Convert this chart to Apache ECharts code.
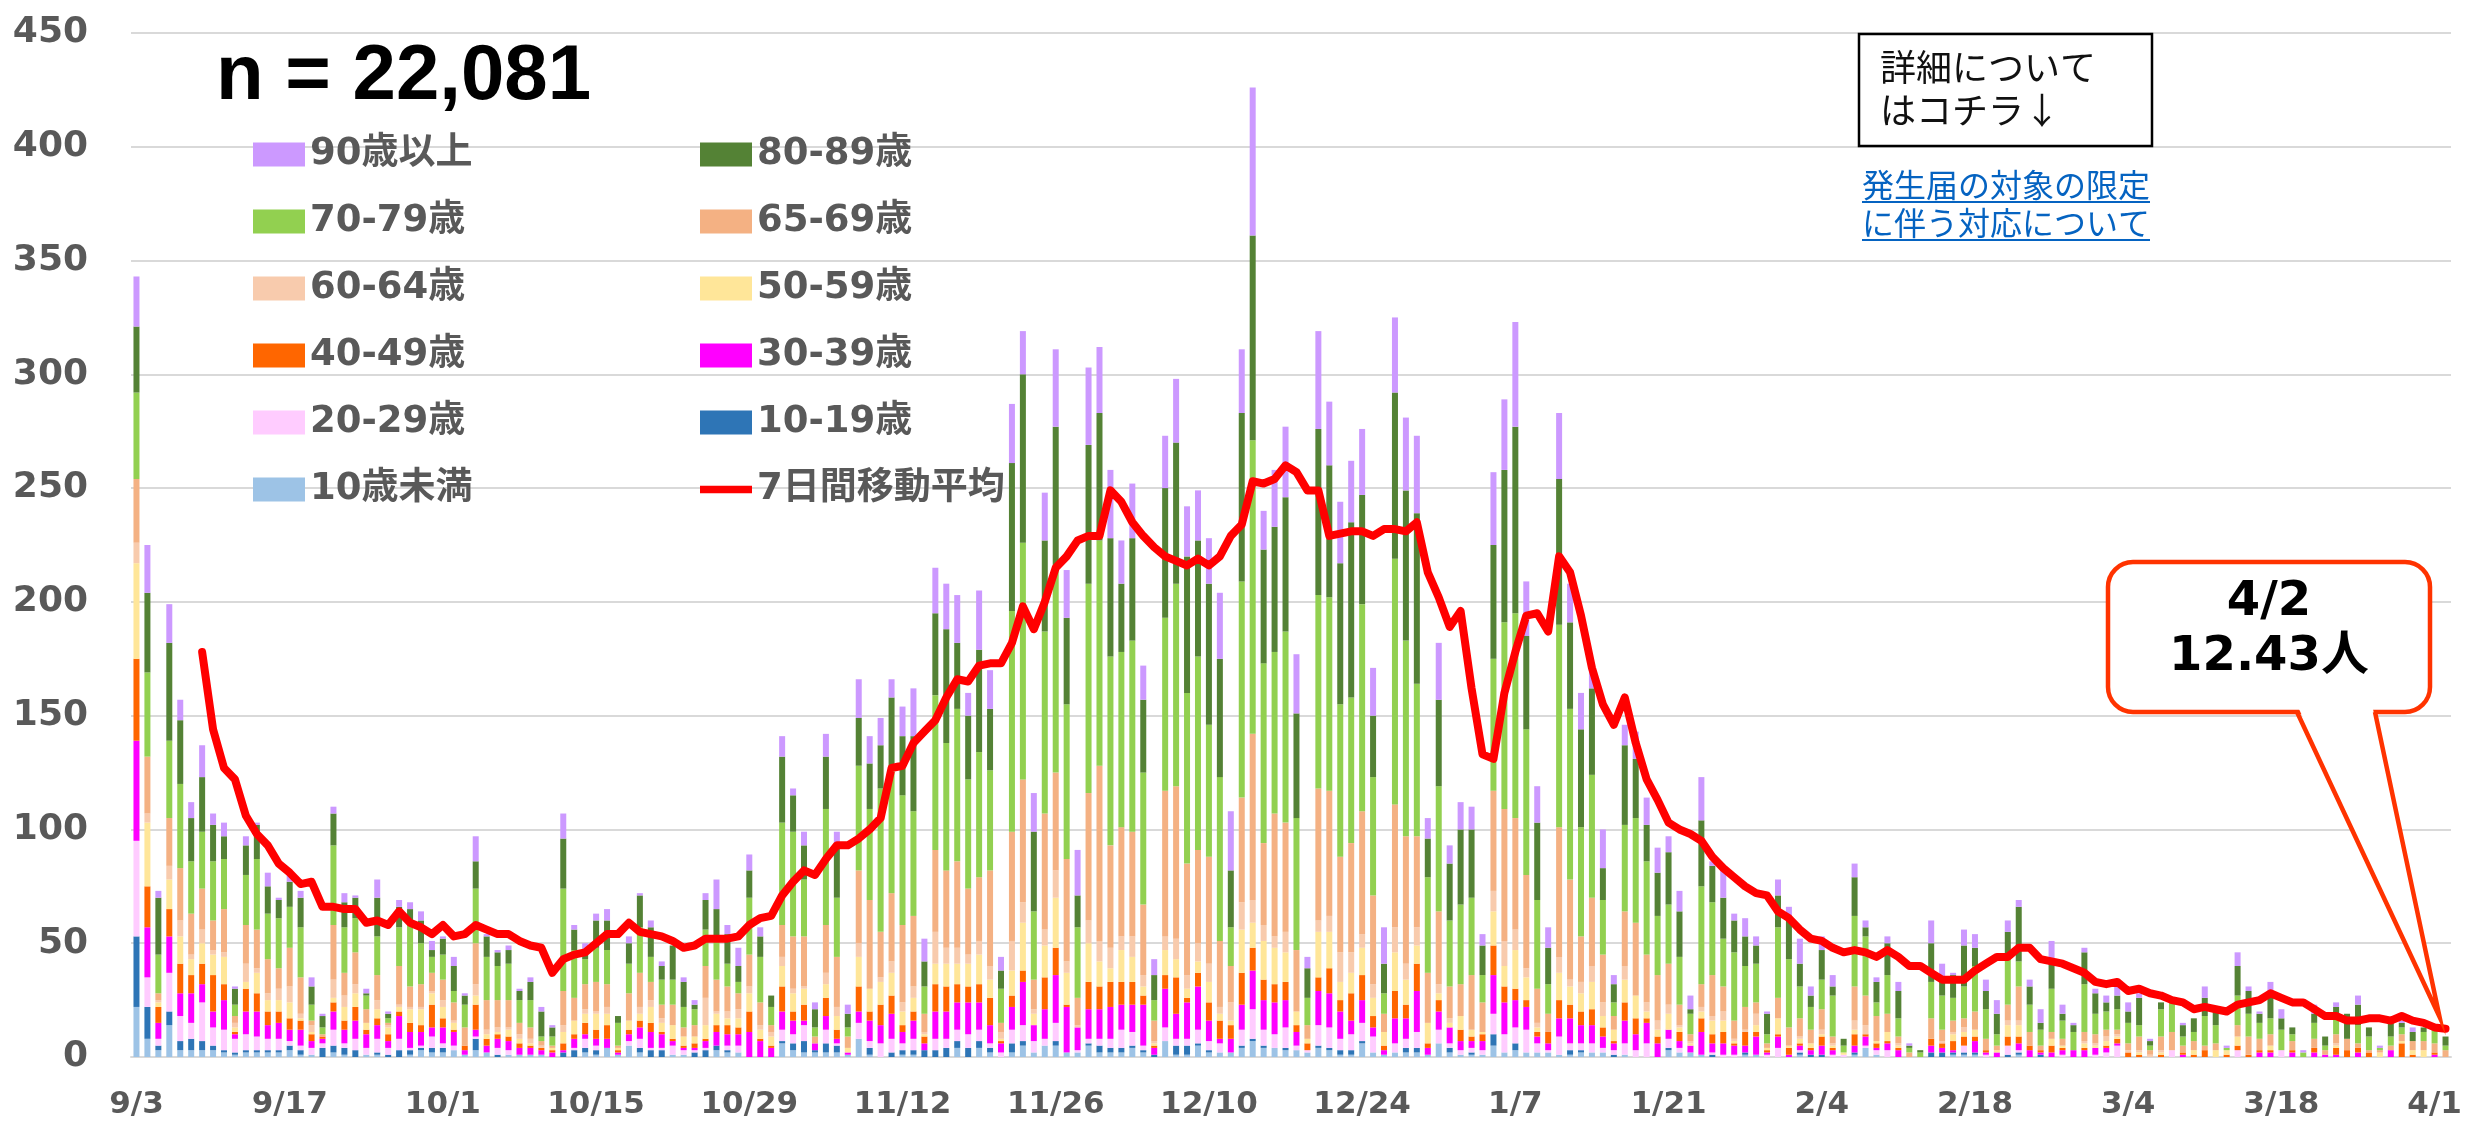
<!DOCTYPE html>
<html lang="ja">
<head>
<meta charset="utf-8">
<title>年代別 新規陽性者数</title>
<script src="https://cdn.jsdelivr.net/npm/echarts@6.0.0/dist/echarts.min.js"></script>
<style>
  html, body { margin: 0; padding: 0; background: #fff; }
  #chart { width: 2481px; height: 1127px; }
</style>
</head>
<body>
<div id="chart"></div>
<script>
// daily counts by age group, 9/3 .. 4/2 (212 days)
const age0 = [
  22,8,3,14,3,3,3,3,2,1, 2,2,2,2,3,1,1,0,2,1, 0,1,1,0,0,1,3,2,2,3, 1,3,2,0,1,1,1,1,0,0,
  0,2,1,4,1,5,2,0,0,1, 1,0,0,3,2,2,0,0,0,6, 3,2,2,2,2,1,8,1,0,0, 1,1,0,0,0,4,0,4,2,0,
  2,5,2,5,5,2,2,5,2,2, 2,4,2,0,7,1,1,5,2,2, 2,4,7,4,4,3,3,2,4,3, 1,1,6,2,1,2,2,2,1,6,
  2,1,1,1,5,2,3,2,2,2, 1,1,2,2,2,0,1,0,0,0, 3,2,2,1,0,0,0,1,1,0, 0,0,1,0,0,0,0,1,4,1,
  0,0,0,0,0,0,1,1,1,0, 0,0,1,0,0,0,0,0,0,0, 0,0,0,0,0,0,0,0,0,0, 0,0,0,0,0,0,0,0,0,0,
  0,0,0,0,0,0,0,0,0,0, 0,0
];
const age10 = [
  31,14,2,6,4,5,4,2,1,1, 1,1,1,1,2,2,0,4,3,3, 3,0,1,1,3,2,1,2,2,0, 0,5,0,1,0,0,0,0,0,2,
  3,2,2,0,0,0,2,3,3,0, 0,2,3,2,1,0,0,0,0,1, 3,5,1,4,3,0,0,3,0,2, 2,2,3,3,4,3,4,3,2,0,
  4,2,0,0,2,0,0,1,3,2, 2,1,1,1,0,4,4,1,1,0, 0,1,1,1,0,1,0,0,1,1, 2,2,1,0,0,0,2,2,0,0,
  2,0,1,0,5,0,3,0,0,0, 0,2,1,0,0,1,0,0,0,0, 1,0,0,0,1,0,0,1,0,0, 0,0,1,1,1,0,0,1,0,0,
  0,0,0,0,2,2,1,1,1,0, 0,1,1,0,1,0,0,0,0,0, 0,0,0,0,0,0,0,0,0,0, 0,0,0,0,0,0,0,0,0,0,
  0,0,0,0,0,0,0,0,0,0, 0,0
];
const age20 = [
  42,13,3,17,11,7,17,8,9,6, 7,6,5,5,2,2,3,2,7,2, 5,3,6,3,5,1,1,5,2,2, 0,1,0,3,2,0,0,0,0,0,
  1,4,2,0,0,2,4,1,1,4, 2,1,1,0,2,3,0,0,0,5, 4,7,0,6,1,0,7,3,6,6, 3,5,0,5,4,5,6,5,2,2,
  6,7,5,3,8,0,1,2,3,4, 8,6,2,0,6,3,3,6,4,4, 0,7,13,7,6,9,2,1,9,9, 5,7,8,7,0,4,4,7,0,6,
  2,2,2,2,9,8,7,10,4,1, 8,3,3,4,2,2,5,3,6,0, 4,2,0,0,1,1,1,0,0,1, 4,0,1,0,0,1,1,0,1,2,
  3,0,0,0,0,0,0,3,0,1, 0,4,1,0,0,0,1,0,0,1, 2,5,0,0,0,0,3,0,0,0, 0,0,3,0,0,0,3,0,0,0,
  0,0,0,0,0,0,0,0,0,0, 0,0
];
const age30 = [
  44,22,7,16,10,13,8,7,13,2, 10,11,6,7,5,7,3,2,8,6, 8,6,6,3,10,7,6,4,7,6, 2,3,3,4,4,3,3,2,2,1,
  4,2,3,4,1,3,5,7,6,2, 1,1,3,6,5,5,11,7,4,8, 6,2,3,6,2,1,5,9,8,11, 5,8,3,12,12,12,14,12,8,4,
  10,19,7,13,21,20,10,13,13,14, 11,12,18,3,17,11,16,19,9,2, 6,11,17,13,14,12,6,0,15,15, 12,6,10,4,2,11,9,18,3,8,
  7,4,3,4,17,14,12,10,3,3, 8,11,8,8,5,3,10,7,9,6, 4,3,3,10,4,5,4,3,8,1, 5,1,2,2,4,2,0,3,4,1,
  3,3,0,0,3,2,1,0,5,1, 2,0,3,3,1,2,2,3,3,3, 2,1,0,0,0,0,0,1,0,0, 0,0,0,0,2,2,0,2,0,2,
  1,1,0,2,0,0,3,0,0,0, 1,0
];
const age40 = [
  36,18,7,12,13,8,9,16,7,1, 10,8,6,5,5,4,3,1,4,4, 6,2,3,3,2,4,3,10,4,1, 2,11,3,2,2,2,1,1,1,3,
  2,5,4,6,1,2,3,4,1,1, 1,2,1,3,4,3,9,1,1,11, 4,7,0,8,4,0,11,4,9,8, 3,4,3,12,11,8,7,8,12,1,
  5,5,0,14,12,1,0,12,10,11, 10,10,4,1,6,16,2,6,8,8, 6,14,10,9,8,8,3,3,6,11, 5,12,11,5,2,12,6,12,2,5,
  0,5,2,3,13,7,5,3,2,5, 8,6,6,7,4,1,8,7,2,3, 0,4,0,6,4,5,1,6,2,1, 1,3,1,1,4,1,0,5,1,2,
  1,1,0,0,3,2,4,4,2,1, 0,4,3,2,1,3,1,0,1,0, 1,2,2,1,0,1,0,1,1,3, 0,1,2,1,1,1,0,1,0,2,
  0,3,3,2,2,0,0,6,1,0, 1,0
];
const age50 = [
  42,28,2,13,12,7,9,9,12,2, 3,9,5,5,7,1,1,0,2,6, 6,3,4,3,2,6,7,5,5,3, 0,4,2,1,3,2,1,0,1,5,
  6,4,7,5,1,4,3,7,4,6, 4,3,6,5,3,4,8,4,4,9, 8,7,0,6,6,2,13,10,10,10, 6,6,1,9,10,9,10,13,8,1,
  11,21,5,14,22,14,0,17,11,6, 14,11,4,1,11,8,4,5,9,3, 2,19,11,17,16,13,6,2,20,16, 8,9,12,8,6,17,11,8,9,3,
  2,6,3,1,15,9,17,10,2,0, 12,8,8,12,5,5,10,10,3,3, 7,2,1,3,6,5,1,0,3,1, 7,1,2,2,1,1,1,2,0,1,
  4,1,0,0,0,0,3,2,3,0, 1,5,5,0,0,3,1,0,2,1, 2,1,0,1,0,1,0,0,2,0, 3,2,4,0,0,2,0,0,0,0,
  0,1,0,0,0,2,0,1,2,3, 0,0
];
const age60 = [
  9,4,1,6,7,2,6,2,2,2, 8,2,3,5,7,2,3,0,8,5, 4,0,4,1,1,1,1,1,3,1, 0,5,2,2,1,2,2,1,0,3,
  0,2,1,3,0,0,3,3,2,0, 0,0,12,1,3,4,3,2,2,4, 2,1,0,5,4,0,6,0,2,5, 4,5,1,14,7,7,4,6,6,3,
  13,9,2,7,12,5,1,10,9,9, 6,9,5,1,6,9,6,8,8,3, 8,12,10,7,5,9,0,0,5,7, 13,9,6,6,0,11,7,8,0,4,
  2,0,0,0,9,11,9,4,2,0, 7,3,5,7,6,0,6,0,4,4, 4,1,1,2,2,4,1,1,5,0, 0,0,1,0,2,1,0,4,4,0,
  0,1,0,0,0,1,1,2,0,0, 0,2,2,0,0,0,0,0,1,1, 2,1,1,1,1,1,0,0,0,0, 0,0,0,0,0,0,0,0,0,0,
  0,1,0,0,0,0,0,0,0,0, 0,0
];
const age65 = [
  28,25,3,21,23,18,18,13,19,3, 17,17,15,9,17,16,2,1,24,10, 14,6,11,1,17,9,10,8,9,8, 8,18,13,12,12,5,5,2,1,15,
  10,11,13,10,1,12,15,8,6,9, 4,5,14,14,11,7,14,10,3,14, 23,22,3,21,22,5,32,39,20,30, 34,31,8,36,34,38,29,28,42,4,
  48,54,13,51,43,45,12,56,77,45, 48,46,31,9,64,67,49,41,47,29, 16,46,73,36,54,48,27,6,58,55, 42,48,54,39,8,54,56,40,22,32,
  14,14,24,13,44,58,49,41,15,8, 57,44,20,30,21,6,24,32,21,20, 18,9,3,10,18,11,8,10,5,2, 9,8,8,6,9,3,0,15,13,11,
  8,3,2,0,9,5,5,4,8,5, 2,7,15,6,2,3,3,0,4,4, 3,2,3,6,2,6,8,3,4,2, 3,0,5,8,5,5,0,4,0,4,
  2,4,5,2,1,1,2,3,4,4, 4,3
];
const age70 = [
  38,37,17,34,37,23,25,26,22,5, 22,31,20,22,18,22,7,3,35,20, 15,6,17,2,17,28,18,7,11,5, 10,24,19,15,16,10,12,2,4,45,
  21,11,15,15,10,13,20,11,11,11, 9,7,16,19,10,5,25,20,8,45, 46,25,4,51,26,4,46,40,63,54, 57,46,12,68,56,67,48,55,44,15,
  97,104,30,80,89,68,31,92,99,83, 77,84,58,9,76,89,75,85,58,72, 17,95,129,79,71,84,58,12,85,85, 67,64,91,52,9,108,86,67,42,55,
  29,35,34,12,58,82,90,64,39,13, 89,75,48,54,24,6,38,46,41,26, 26,21,9,43,32,21,30,18,17,4, 31,30,14,10,13,18,3,31,26,6,
  17,8,2,2,16,15,10,14,20,13, 5,20,11,12,7,19,8,8,21,9, 8,9,9,5,2,12,13,4,4,13, 8,1,13,10,7,7,9,3,2,7,
  2,8,0,8,6,1,4,3,0,4, 6,2
];
const age80 = [
  29,35,25,43,28,19,24,16,10,7, 13,15,12,8,11,13,8,5,14,11, 9,1,17,2,9,6,10,3,7,11, 4,12,9,6,6,4,8,11,4,22,
  9,4,12,13,3,9,14,13,6,15, 11,2,13,12,13,7,12,9,5,29, 16,15,8,23,24,6,21,20,19,32, 26,33,11,36,50,29,28,45,27,8,
  65,74,35,40,63,38,14,61,56,52, 30,45,32,11,57,62,60,51,62,52, 25,74,90,50,55,59,46,13,73,58, 62,77,48,27,13,73,66,75,17,38,
  25,33,30,13,50,67,82,41,34,16, 64,38,43,38,14,8,35,26,16,19, 23,20,2,29,16,18,14,13,8,9, 14,19,10,5,13,4,3,17,4,9,
  14,12,1,1,17,8,10,18,8,8, 9,12,24,8,3,12,3,3,14,9, 4,6,5,12,2,3,0,5,6,8, 6,0,13,10,4,12,5,3,0,4,
  4,4,11,9,4,0,6,2,4,2, 0,4
];
const age90 = [
  22,21,3,17,9,7,14,5,6,1, 4,1,6,1,3,3,4,1,3,4, 1,2,8,1,3,3,4,4,1,4, 1,11,1,1,2,1,2,2,1,11,
  2,3,3,5,0,3,1,3,2,0, 2,2,3,13,4,8,7,4,0,9, 3,6,3,10,5,4,17,12,12,8, 13,21,10,20,20,21,10,26,17,6,
  26,19,17,21,34,21,20,34,29,30, 19,24,15,7,23,28,22,22,20,29, 26,28,65,17,25,31,26,5,43,28, 27,27,29,21,16,33,32,34,9,25,
  8,12,10,5,32,31,46,24,16,9, 29,17,16,9,17,4,9,12,12,11, 7,9,6,19,2,12,3,8,4,1, 7,4,11,4,6,5,0,6,3,2,
  3,4,1,0,10,6,1,7,6,5, 6,5,3,3,6,9,4,1,2,2, 3,4,4,2,1,0,0,1,0,5, 0,1,6,2,1,4,4,0,1,4,
  0,2,0,4,0,1,0,1,2,0, 0,0
];
// 7-day moving average
const avg7 = [
  null,null,null,null,null,null,178,144,127,122,
  106,98,93,85,81,76,77,66,66,65, 65,59,60,58,64,59,57,54,58,53, 54,58,56,54,54,51,49,48,37,43,
  45,46,50,54,54,59,55,54,53,51, 48,49,52,52,52,53,58,61,62,71, 77,82,80,87,93,93,96,100,105,127,
  128,138,143,148,158,166,165,172,173,173, 182,198,188,200,215,220,227,229,229,249, 244,235,229,224,220,218,216,219,216,220,
  229,234,253,252,254,260,257,249,249,229, 230,231,231,229,232,232,231,235,213,202, 189,196,162,133,131,160,178,194,195,187,
  220,213,194,171,155,146,158,138,122,113, 103,100,98,95,88,83,79,75,72,71, 64,61,56,52,51,48,46,47,46,44,
  47,44,40,40,37,34,34,34,38,41, 44,44,48,48,43,42,41,39,37,33, 32,33,29,30,28,27,25,24,21,22,
  21,20,23,24,25,28,26,24,24,21, 18,18,16,16,17,17,16,18,16,15, 13,12.43
];

const groupNames = ['10歳未満', '10-19歳', '20-29歳', '30-39歳', '40-49歳', '50-59歳',
  '60-64歳', '65-69歳', '70-79歳', '80-89歳', '90歳以上'];
const groupColors = ['#9DC3E6', '#2E75B6', '#FFCCFF', '#FF00FF', '#FF6600', '#FFE699',
  '#F8CBAD', '#F4B183', '#92D050', '#548235', '#CC99FF'];
const groupData = [age0, age10, age20, age30, age40, age50, age60, age65, age70, age80, age90];
const lineName = '7日間移動平均';

// category labels: one per day starting 2020/9/3
const dates = [];
for (let i = 0; i < age0.length; i++) {
  const d = new Date(2020, 8, 3 + i);
  dates.push((d.getMonth() + 1) + '/' + d.getDate());
}

const chart = echarts.init(document.getElementById('chart'), null, { renderer: 'canvas' });

const legendText = {
  color: '#595959',
  fontSize: 37,
  fontWeight: 'bold',
  fontFamily: '"DejaVu Sans", "Noto Sans CJK JP"',
  lineHeight: 37
};

const series = groupNames.map((name, i) => ({
  name: name,
  type: 'bar',
  stack: 'total',
  barWidth: 6,
  itemStyle: { color: groupColors[i] },
  data: groupData[i]
}));
series.push({
  name: lineName,
  type: 'line',
  data: avg7,
  symbol: 'none',
  z: 5,
  lineStyle: { color: '#FF0000', width: 8, join: 'round', cap: 'round' },
  itemStyle: { color: '#FF0000' }
});

const option = {
  animation: false,
  backgroundColor: '#ffffff',
  grid: { left: 131, right: 30, top: 33, bottom: 70, containLabel: false, outerBoundsMode: 'none' },
  xAxis: {
    type: 'category',
    data: dates,
    boundaryGap: true,
    axisLine: { lineStyle: { color: '#D9D9D9', width: 2 } },
    axisTick: { interval: 13, length: 10, alignWithLabel: false, lineStyle: { color: '#D9D9D9', width: 2 } },
    axisLabel: {
      interval: 13,
      margin: 32,
      color: '#595959',
      fontSize: 31,
      fontWeight: 'bold',
      fontFamily: '"DejaVu Sans"'
    }
  },
  yAxis: {
    type: 'value',
    min: 0,
    max: 450,
    interval: 50,
    axisLine: { show: false },
    axisTick: { show: false },
    splitLine: { lineStyle: { color: '#D9D9D9', width: 2 } },
    axisLabel: {
      margin: 43,
      color: '#595959',
      fontSize: 36,
      fontWeight: 'bold',
      fontFamily: '"DejaVu Sans"'
    }
  },
  legend: [
    {
      data: ['90歳以上', '70-79歳', '60-64歳', '40-49歳', '20-29歳', '10歳未満'],
      orient: 'vertical',
      left: 248,
      top: 131,
      itemWidth: 52,
      itemHeight: 24,
      itemGap: 30,
      icon: 'rect',
      selectedMode: false,
      textStyle: legendText
    },
    {
      data: ['80-89歳', '65-69歳', '50-59歳', '30-39歳', '10-19歳',
        { name: lineName, icon: 'path://M0,0L56,0L56,8L0,8Z' }],
      orient: 'vertical',
      left: 695,
      top: 131,
      itemWidth: 52,
      itemHeight: 24,
      itemGap: 30,
      icon: 'rect',
      selectedMode: false,
      textStyle: legendText
    }
  ],
  series: series
};

chart.setOption(option);

// callout pointing at the last moving-average point
const last = avg7.length - 1;
const pt = chart.convertToPixel({ gridIndex: 0 }, [last, avg7[last]]);
const tip = [pt[0] - 6, pt[1] - 12];
const box = { x: 2108, y: 562, w: 322, h: 150 };
const tailL = 2297, tailR = 2375;
const bigFont = 'bold 48px "DejaVu Sans", "Noto Sans CJK JP"';

chart.setOption({
  graphic: [
    {
      type: 'text', z: 100, x: 216, y: 77,
      style: { text: 'n = 22,081', font: 'bold 78px "Liberation Sans"', fill: '#000', verticalAlign: 'middle' }
    },
    {
      type: 'rect', z: 100,
      shape: { x: 1859, y: 34, width: 293, height: 112 },
      style: { fill: '#fff', stroke: '#000', lineWidth: 2.5 }
    },
    {
      type: 'text', z: 101, x: 1880, y: 67,
      style: { text: '詳細について', font: '36px "Noto Sans CJK JP"', fill: '#111', verticalAlign: 'middle' }
    },
    {
      type: 'text', z: 101, x: 1880, y: 110,
      style: { text: 'はコチラ↓', font: '36px "Noto Sans CJK JP"', fill: '#111', verticalAlign: 'middle' }
    },
    {
      type: 'text', z: 100, x: 1862, y: 185,
      style: { text: '発生届の対象の限定', font: '32px "Noto Sans CJK JP"', fill: '#0563C1', verticalAlign: 'middle' }
    },
    {
      type: 'text', z: 100, x: 1862, y: 223,
      style: { text: 'に伴う対応について', font: '32px "Noto Sans CJK JP"', fill: '#0563C1', verticalAlign: 'middle' }
    },
    {
      type: 'line', z: 100,
      shape: { x1: 1862, y1: 202, x2: 2150, y2: 202 },
      style: { stroke: '#0563C1', lineWidth: 2 }
    },
    {
      type: 'line', z: 100,
      shape: { x1: 1862, y1: 240, x2: 2150, y2: 240 },
      style: { stroke: '#0563C1', lineWidth: 2 }
    },
    {
      type: 'rect', z: 100,
      shape: { x: box.x, y: box.y, width: box.w, height: box.h, r: 25 },
      style: { fill: '#fff', stroke: '#FF3300', lineWidth: 4.5 }
    },
    {
      type: 'polygon', z: 101,
      shape: { points: [[tailL + 2, box.y + box.h - 3], [tailR - 2, box.y + box.h - 3], tip] },
      style: { fill: '#fff' }
    },
    {
      type: 'polyline', z: 102,
      shape: { points: [[tailL, box.y + box.h], tip, [tailR, box.y + box.h]] },
      style: { stroke: '#FF3300', lineWidth: 4.5, fill: null, lineJoin: 'miter' }
    },
    {
      type: 'text', z: 103, x: box.x + box.w / 2, y: 603,
      style: { text: '4/2', font: bigFont, fill: '#000', align: 'center', verticalAlign: 'middle' }
    },
    {
      type: 'text', z: 103, x: box.x + box.w / 2, y: 658,
      style: { text: '12.43人', font: bigFont, fill: '#000', align: 'center', verticalAlign: 'middle' }
    }
  ]
});
</script>
</body>
</html>
